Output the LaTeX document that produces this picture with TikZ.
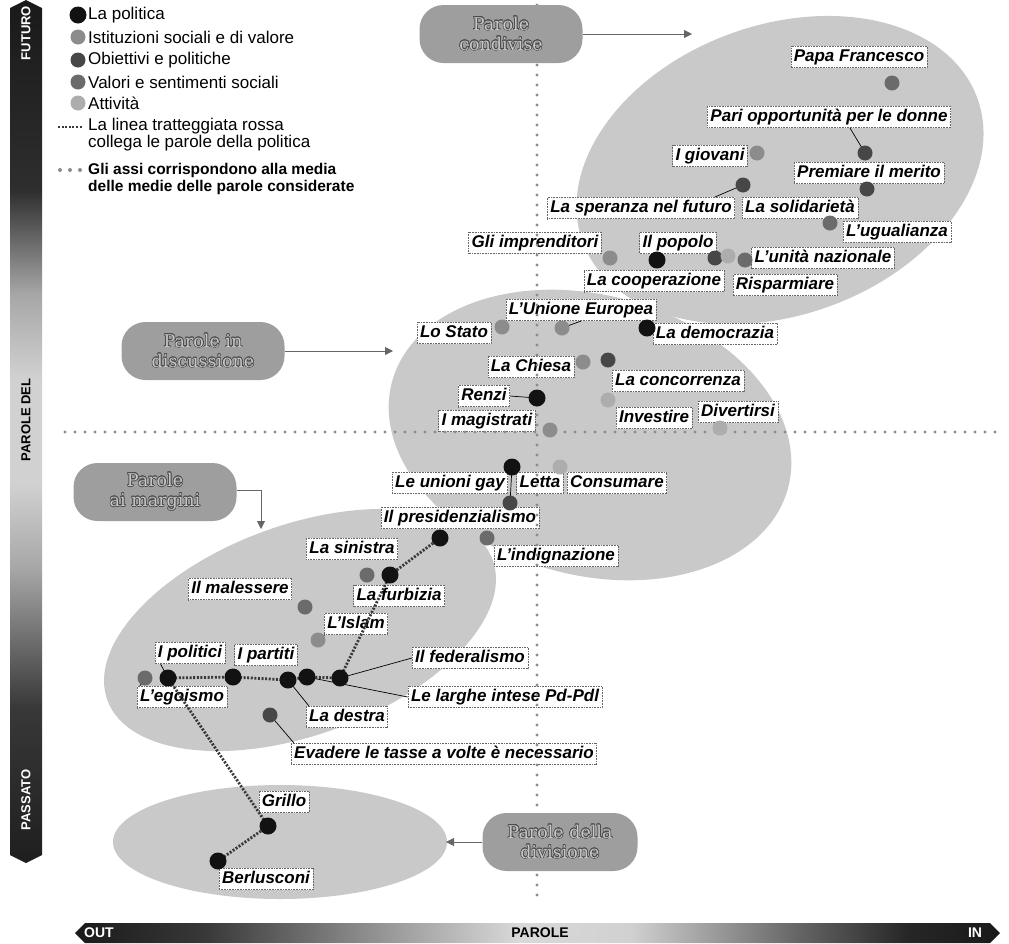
\documentclass[tikz,border=0pt]{standalone}
\usepackage{fontspec}
\setmainfont{Liberation Sans}
\newfontfamily\calfamily{DejaVu Serif}
\usepackage{contour}
\contourlength{0.6pt}
\usetikzlibrary{arrows.meta,calc}

\definecolor{cPol}{gray}{0.07}
\definecolor{cIst}{gray}{0.55}
\definecolor{cObi}{gray}{0.28}
\definecolor{cVal}{gray}{0.42}
\definecolor{cAtt}{gray}{0.68}

\pgfdeclareverticalshading{leftbar}{100bp}{color(0bp)=(black!88); color(25bp)=(black!88); color(34bp)=(black!78); color(42bp)=(black!35); color(47bp)=(black!18); color(53bp)=(black!18); color(58bp)=(black!35); color(64bp)=(black!82); color(75bp)=(black!90); color(100bp)=(black!90)}
\pgfdeclarehorizontalshading{bottombar}{100bp}{color(0bp)=(black!90); color(25bp)=(black!90); color(32bp)=(black!78); color(42bp)=(black!40); color(49bp)=(black!15); color(55bp)=(black!18); color(64bp)=(black!60); color(70bp)=(black!85); color(75bp)=(black!90); color(100bp)=(black!90)}

\newcommand\lblfont{\bfseries\itshape\fontsize{17}{19}\selectfont}
\newcommand\legfont{\fontsize{17}{17}\selectfont}
\newcommand\legbold{\bfseries\fontsize{15.5}{17}\selectfont}
\newcommand\barfont{\bfseries\fontsize{13}{13}\selectfont}
\newcommand\calfont{\calfamily\fontsize{17.5}{20}\selectfont}
\newcommand\ctext[1]{\contour{black!70}{#1}}

\tikzset{
  zone/.style={fill=black!21},
  callout/.style={fill=black!38, rounded corners=24pt, minimum width=163pt, minimum height=58pt, align=center, font=\calfont, text=black!22, inner sep=0pt},
  arrowln/.style={draw=black!60, line width=0.9pt, -{Triangle[length=8pt,width=8pt]}},
  lbl/.style={draw=black!60, densely dotted, line width=0.6pt, fill=white, inner xsep=3pt, inner ysep=2pt, text height=13pt, text depth=4.5pt, font=\lblfont},
  dot/.style={circle, fill=#1, inner sep=0pt, minimum size=15pt},
  pdot/.style={circle, fill=cPol, inner sep=0pt, minimum size=17pt},
  conn/.style={draw=black, line width=0.7pt},
  polline/.style={draw=black!78, line width=2.8pt, dash pattern=on 2pt off 1.6pt},
  axisdots/.style={draw=black!45, line width=3.4pt, line cap=round, dash pattern=on 0pt off 10pt},
  legtxt/.style={anchor=west, inner sep=0pt, font=\legfont, align=left},
  bartxt/.style={inner sep=0pt, font=\barfont}
}

\begin{document}
\begin{tikzpicture}[x=1pt,y=-1pt]
\useasboundingbox (0,0) rectangle (1009,943);

% background zones
\fill[zone, rotate around={20:(780,170)}] (780,170) ellipse [x radius=210, y radius=145];
\fill[zone, rotate around={-15:(590,435)}] (590,435) ellipse [x radius=205, y radius=140];
\fill[zone, rotate around={20:(300,630)}] (300,630) ellipse [x radius=205, y radius=105];
\fill[zone] (280,842) ellipse [x radius=167, y radius=57];

% side bars
\shade[shading=leftbar] (10,8) -- (26,0) -- (42,8) -- (42,855) -- (26,863) -- (10,855) -- cycle;
\node[bartxt, rotate=90, text=white] (tfut) at (26,33) {FUTURO};
\node[bartxt, rotate=90, text=black] (tdel) at (26,420) {PAROLE DEL};
\node[bartxt, rotate=90, text=white] (tpas) at (26,800) {PASSATO};
\shade[shading=bottombar] (75,933) -- (85,923) -- (990,923) -- (1000,933) -- (990,943) -- (85,943) -- cycle;
\node[bartxt, text=white, font=\bfseries\fontsize{14}{14}\selectfont] (tout) at (99,933) {OUT};
\node[bartxt, text=black, font=\bfseries\fontsize{14}{14}\selectfont] (tpar) at (540,933) {PAROLE};
\node[bartxt, text=white, font=\bfseries\fontsize{14}{14}\selectfont] (tin) at (975,933) {IN};

% legend
\node[pdot] (lg1) at (78,15) {};
\node[legtxt] (lt1) at (88,15) {La politica};
\node[dot=cIst] (lg2) at (78,37) {};
\node[legtxt] (lt2) at (88,37) {Istituzioni sociali e di valore};
\node[dot=cObi] (lg3) at (78,60) {};
\node[legtxt] (lt3) at (88,60) {Obiettivi e politiche};
\node[dot=cVal] (lg4) at (78,82) {};
\node[legtxt] (lt4) at (88,82) {Valori e sentimenti sociali};
\node[dot=cAtt] (lg5) at (78,103) {};
\node[legtxt] (lt5) at (88,103) {Attività};
\coordinate (lm1) at (58,127);
\coordinate (lm2) at (83,127);
\draw[polline, line width=1.6pt] (lm1) -- (lm2);
\node[legtxt] (lt6) at (88,135) {La linea tratteggiata rossa\\collega le parole della politica};
\foreach \xx in {60,70,80} \fill[black!45] (\xx,170) circle[radius=2];
\node[legtxt, font=\legbold] (lt7) at (88,179) {Gli assi corrispondono alla media\\delle medie delle parole considerate};

% dot positions
\coordinate (dPari) at (865,153);
\coordinate (dSper) at (743,185);
\coordinate (dEU) at (562,328);
\coordinate (dRenzi) at (537,398);
\coordinate (dLetta) at (512,467);
\coordinate (dGay) at (510,503);
\coordinate (dIslam) at (318,640);
\coordinate (dEgo) at (145,678);
\coordinate (dPolitici) at (168,678);
\coordinate (dPartiti) at (233,677);
\coordinate (dDestra) at (288,680);
\coordinate (dLarghe) at (307,677);
\coordinate (dFed) at (340,678);
\coordinate (dEvad) at (270,715);
\coordinate (dSin) at (390,575);
\coordinate (dPres) at (440,538);
\coordinate (dGrillo) at (268,826);
\coordinate (dBerl) at (218,861);

% labels
\node[lbl] (Papa) at (859,57) {Papa Francesco};
\node[lbl] (Pari) at (829,117) {Pari opportunità per le donne};
\node[lbl] (Giov) at (710,156) {I giovani};
\node[lbl] (Prem) at (869,173) {Premiare il merito};
\node[lbl] (Sper) at (641,208) {La speranza nel futuro};
\node[lbl] (Soli) at (800,208) {La solidarietà};
\node[lbl] (Ugua) at (897,232) {L’ugualianza};
\node[lbl] (Unit) at (823,258) {L’unità nazionale};
\node[lbl] (Risp) at (785,285) {Risparmiare};
\node[lbl] (Impr) at (535,243) {Gli imprenditori};
\node[lbl] (Popo) at (678,243) {Il popolo};
\node[lbl] (Coop) at (654,281) {La cooperazione};
\node[lbl] (EU) at (581,310) {L’Unione Europea};
\node[lbl] (Stato) at (454,333) {Lo Stato};
\node[lbl] (Demo) at (715,334) {La democrazia};
\node[lbl] (Chie) at (531,367) {La Chiesa};
\node[lbl] (Conc) at (678,381) {La concorrenza};
\node[lbl] (Renzi) at (484,396) {Renzi};
\node[lbl] (Inve) at (654,418) {Investire};
\node[lbl] (Dive) at (738,412) {Divertirsi};
\node[lbl] (Magi) at (487,421) {I magistrati};
\node[lbl] (Gay) at (450,483) {Le unioni gay};
\node[lbl] (Letta) at (540,483) {Letta};
\node[lbl] (Cons) at (617,483) {Consumare};
\node[lbl] (Pres) at (460,518) {Il presidenzialismo};
\node[lbl] (Indi) at (556,556) {L’indignazione};
\node[lbl] (Sini) at (352,549) {La sinistra};
\node[lbl] (Male) at (240,589) {Il malessere};
\node[lbl] (Furb) at (399,596) {La furbizia};
\node[lbl] (Islam) at (356,624) {L’Islam};
\node[lbl] (Poli) at (190,653) {I politici};
\node[lbl] (Part) at (266,655) {I partiti};
\node[lbl] (Fed) at (470,658) {Il federalismo};
\node[lbl] (Ego) at (182,697) {L’egoismo};
\node[lbl] (Larg) at (505,697) {Le larghe intese Pd-Pdl};
\node[lbl] (Destra) at (347,717) {La destra};
\node[lbl] (Evad) at (444,754) {Evadere le tasse a volte è necessario};
\node[lbl] (Grillo) at (284,802) {Grillo};
\node[lbl] (Berl) at (266,879) {Berlusconi};

% thin connectors
\draw[conn] ($(Pari.south)+(21,0)$) -- (dPari);
\draw[conn] ($(Sper.north east)+(-20,0)$) -- (dSper);
\draw[conn] (EU.south) -- (dEU);
\draw[conn] (Renzi.east) -- (dRenzi);
\draw[conn] (dLetta) -- (dGay);
\draw[conn] (Islam.south west) -- (dIslam);
\draw[conn] ($(Ego.north west)+(3,0)$) -- (dEgo);
\draw[conn] ($(Poli.south west)+(6,0)$) -- (dPolitici);
\draw[conn] ($(Destra.north west)+(3,0)$) -- (dDestra);
\draw[conn] (Larg.west) -- (dLarghe);
\draw[conn] (Fed.west) -- (dFed);
\draw[conn] ($(Evad.north west)+(3,0)$) -- (dEvad);

% axes (over labels)
\coordinate (vtop) at (537,5);
\coordinate (vbot) at (537,905);
\coordinate (hleft) at (65,432);
\coordinate (hright) at (1000,432);
\draw[axisdots] (vtop) -- (vbot);
\draw[axisdots] (hleft) -- (hright);

% political dotted line
\draw[polline] (dPolitici) -- (dPartiti) -- (dDestra) -- (dLarghe) -- (dFed) -- (dSin) -- (dPres);
\draw[polline] (dPolitici) -- (dGrillo) -- (dBerl);

% dots
\node[dot=cVal] (nPapa) at (892,83) {};
\node[dot=cObi] (nPari) at (dPari) {};
\node[dot=cIst] (nGiov) at (757,153) {};
\node[dot=cObi] (nPrem) at (867,189) {};
\node[dot=cObi] (nSper) at (dSper) {};
\node[dot=cVal] (nUgua) at (830,223) {};
\node[dot=cObi] (nCoop) at (715,258) {};
\node[dot=cAtt] (nRisp) at (728,256) {};
\node[dot=cVal] (nUnit) at (745,260) {};
\node[dot=cIst] (nImpr) at (610,258) {};
\node[pdot] (nPopo) at (657,260) {};
\node[dot=cIst] (nEU) at (dEU) {};
\node[dot=cIst] (nStato) at (502,327) {};
\node[pdot] (nDemo) at (647,328) {};
\node[dot=cIst] (nChie) at (583,362) {};
\node[dot=cObi] (nConc) at (608,360) {};
\node[pdot] (nRenzi) at (dRenzi) {};
\node[dot=cAtt] (nInve) at (608,400) {};
\node[dot=cAtt] (nDive) at (720,428) {};
\node[dot=cIst] (nMagi) at (550,430) {};
\node[pdot] (nLetta) at (dLetta) {};
\node[dot=cObi] (nGay) at (dGay) {};
\node[dot=cAtt] (nCons) at (560,467) {};
\node[pdot] (nPres) at (dPres) {};
\node[dot=cVal] (nIndi) at (487,538) {};
\node[dot=cVal] (nFurb) at (367,575) {};
\node[pdot] (nSini) at (dSin) {};
\node[dot=cVal] (nMale) at (305,607) {};
\node[dot=cIst] (nIslam) at (dIslam) {};
\node[dot=cVal] (nEgo) at (dEgo) {};
\node[pdot] (nPoli) at (dPolitici) {};
\node[pdot] (nPart) at (dPartiti) {};
\node[pdot] (nDestra) at (dDestra) {};
\node[pdot] (nLarg) at (dLarghe) {};
\node[pdot] (nFed) at (dFed) {};
\node[dot=cObi] (nEvad) at (dEvad) {};
\node[pdot] (nGrillo) at (dGrillo) {};
\node[pdot] (nBerl) at (dBerl) {};

% callouts and arrows
\node[callout] (cCond) at (501,34) {\ctext{Parole}\\\ctext{condivise}};
\node[callout] (cDisc) at (203,351) {\ctext{Parole in}\\\ctext{discussione}};
\node[callout] (cMarg) at (155,492) {\ctext{Parole}\\\ctext{ai margini}};
\node[callout, minimum width=155pt] (cDivi) at (560,842) {\ctext{Parole della}\\\ctext{divisione}};
\coordinate (aCond) at (692,34);
\coordinate (aDisc) at (393,351);
\coordinate (aMargK) at (261,490);
\coordinate (aMarg) at (261,529);
\coordinate (aDivi) at (446,842);
\draw[arrowln] (cCond.east) -- (aCond);
\draw[arrowln] (cDisc.east) -- (aDisc);
\draw[arrowln] (cMarg.east |- aMargK) -- (aMargK) -- (aMarg);
\draw[arrowln] (cDivi.west) -- (aDivi);
\end{tikzpicture}
\end{document}
